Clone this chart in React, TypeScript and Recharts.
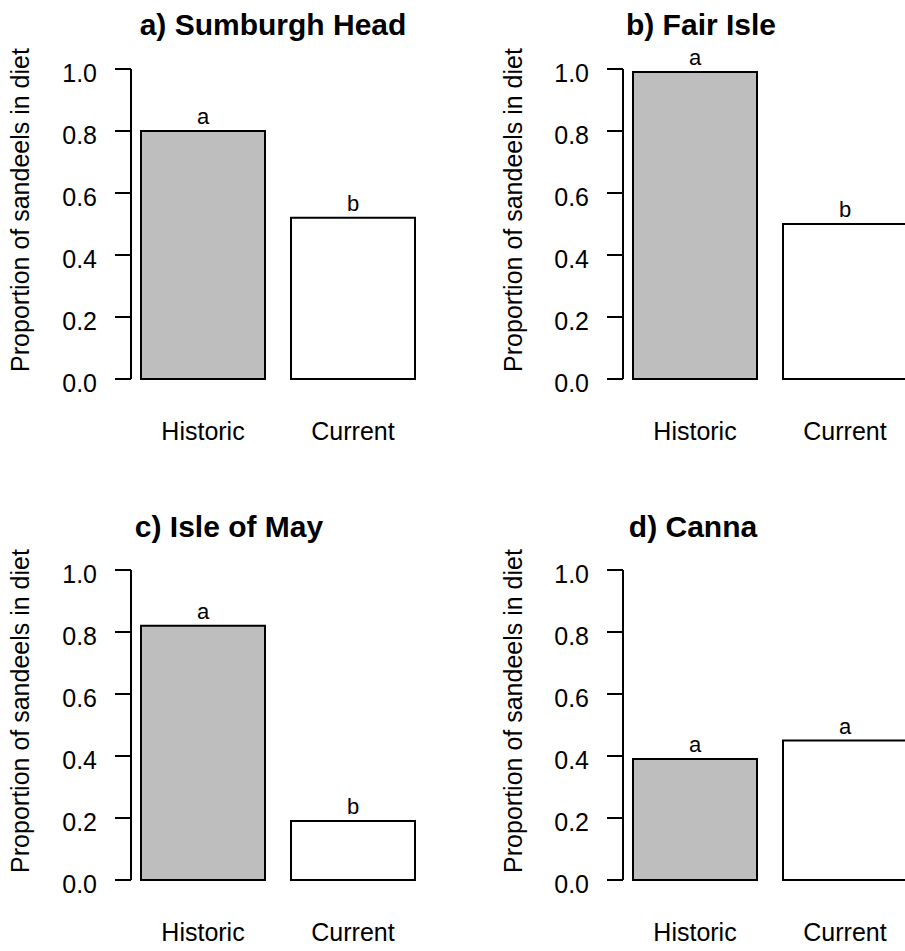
import { BarChart, Bar, XAxis, YAxis, Cell, LabelList } from "recharts";

// values (proportion of sandeels in diet)
const periods = ["Historic", "Current"];
const sumburghHead = [0.8, 0.52];
const fairIsle = [0.99, 0.5];
const isleOfMay = [0.82, 0.19];
const canna = [0.39, 0.45];

// significance letters above bars
const sumburghLetters = ["a", "b"];
const fairIsleLetters = ["a", "b"];
const isleOfMayLetters = ["a", "b"];
const cannaLetters = ["a", "a"];

const titles = ["a) Sumburgh Head", "b) Fair Isle", "c) Isle of May", "d) Canna"];
const yTicks = [0, 0.2, 0.4, 0.6, 0.8, 1.0];
const yLabel = "Proportion of sandeels in diet";

const barFills = ["#bebebe", "#ffffff"];
const FONT = "'Liberation Sans', Arial, Helvetica, sans-serif";

const makeRows = (values: number[], letters: string[]) =>
  periods.map((p, i) => ({ period: p, value: values[i], letter: letters[i] }));

const panels = [
  { rows: makeRows(sumburghHead, sumburghLetters), title: titles[0], left: 0, top: 0, width: 450, height: 470, axisX: 131, plotTop: 69, plotBottom: 379, titleX: 273, titleY: 35, labelX: 29 },
  { rows: makeRows(fairIsle, fairIsleLetters), title: titles[1], left: 450, top: 0, width: 480, height: 470, axisX: 173, plotTop: 69, plotBottom: 379, titleX: 251, titleY: 35, labelX: 72 },
  { rows: makeRows(isleOfMay, isleOfMayLetters), title: titles[2], left: 0, top: 500, width: 450, height: 451, axisX: 131, plotTop: 70, plotBottom: 380, titleX: 229, titleY: 37, labelX: 29 },
  { rows: makeRows(canna, cannaLetters), title: titles[3], left: 450, top: 500, width: 480, height: 451, axisX: 173, plotTop: 70, plotBottom: 380, titleX: 243, titleY: 37, labelX: 72 },
];

const XTick = (props: any) => {
  const { x, y, payload } = props;
  return (
    <text x={x} y={y + 61} textAnchor="middle" fontSize={25} fontFamily={FONT} fill="#000">
      {payload.value}
    </text>
  );
};

const YTick = (props: any) => {
  const { x, y, payload } = props;
  return (
    <text x={x} y={y + 13} textAnchor="end" fontSize={25} fontFamily={FONT} fill="#000">
      {Number(payload.value).toFixed(1)}
    </text>
  );
};

function Panel({ p }: { p: (typeof panels)[number] }) {
  const plotWidth = 300;
  const labelY = (p.plotTop + p.plotBottom) / 2 - 14;
  return (
    <div style={{ position: "absolute", left: p.left, top: p.top }}>
      <BarChart
        width={p.width}
        height={p.height}
        data={p.rows}
        margin={{ top: p.plotTop, right: p.width - p.axisX - plotWidth, bottom: 0, left: 0 }}
      >
        <XAxis
          dataKey="period"
          height={p.height - p.plotBottom}
          axisLine={false}
          tickLine={false}
          tickSize={0}
          tickMargin={0}
          interval={0}
          padding={{ left: -3, right: 3 }}
          tick={XTick}
        />
        <YAxis
          domain={[0, 1]}
          ticks={yTicks}
          width={p.axisX}
          tickSize={16}
          tickMargin={18}
          axisLine={{ stroke: "#000", strokeWidth: 2 }}
          tickLine={{ stroke: "#000", strokeWidth: 2 }}
          tick={YTick}
        />
        <Bar dataKey="value" barSize={124} stroke="#000" strokeWidth={2} isAnimationActive={false}>
          {p.rows.map((r, i) => (
            <Cell key={r.period} fill={barFills[i]} />
          ))}
          <LabelList dataKey="letter" position="top" offset={7} fill="#000" fontSize={22} fontFamily={FONT} />
        </Bar>
        <text x={p.titleX} y={p.titleY} textAnchor="middle" fontSize={30} fontWeight="bold" fontFamily={FONT} fill="#000">
          {p.title}
        </text>
        <text
          x={p.labelX}
          y={labelY}
          transform={`rotate(-90, ${p.labelX}, ${labelY})`}
          textAnchor="middle"
          fontSize={25}
          fontFamily={FONT}
          fill="#000"
        >
          {yLabel}
        </text>
      </BarChart>
    </div>
  );
}

export default function App() {
  return (
    <div style={{ position: "absolute", left: 0, top: 0, width: 905, height: 951, overflow: "hidden", background: "#fff" }}>
      {panels.map((p) => (
        <Panel key={p.title} p={p} />
      ))}
    </div>
  );
}
